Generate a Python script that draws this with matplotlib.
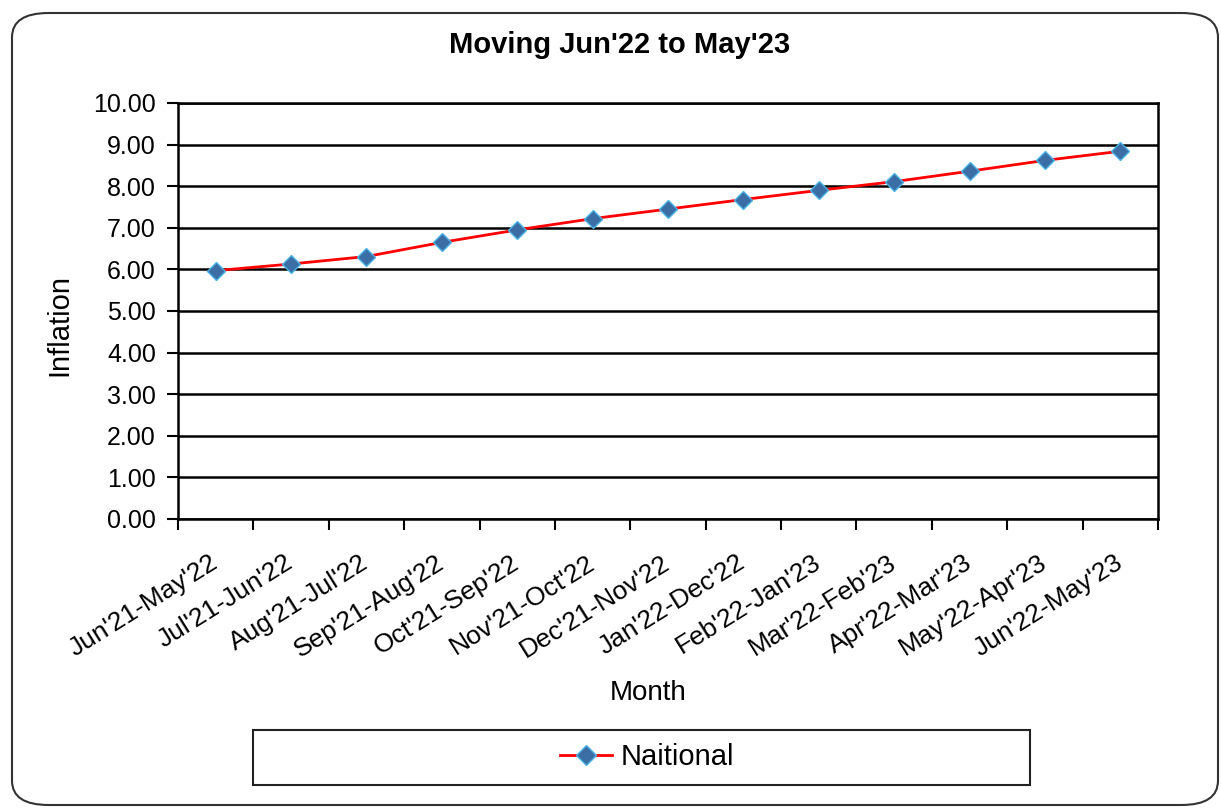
import matplotlib
matplotlib.use("Agg")
import matplotlib.pyplot as plt
from matplotlib.patches import FancyBboxPatch, Rectangle

plt.rcParams['font.family'] = ['Liberation Sans', 'DejaVu Sans']

categories = ["Jun'21-May'22", "Jul'21-Jun'22", "Aug'21-Jul'22", "Sep'21-Aug'22",
              "Oct'21-Sep'22", "Nov'21-Oct'22", "Dec'21-Nov'22", "Jan'22-Dec'22",
              "Feb'22-Jan'23", "Mar'22-Feb'23", "Apr'22-Mar'23", "May'22-Apr'23",
              "Jun'22-May'23"]
national = [5.97, 6.13, 6.31, 6.65, 6.95, 7.22, 7.45, 7.68, 7.90, 8.11, 8.36, 8.62, 8.84]
yticks = [0, 1, 2, 3, 4, 5, 6, 7, 8, 9, 10]

W, H = 1221, 811
fig = plt.figure(figsize=(W / 100, H / 100), dpi=100)

# rounded outer border
border = FancyBboxPatch((12 / W, 6 / H), (1206 / W), (792 / H),
                        boxstyle="round,pad=0,rounding_size=0.03",
                        transform=fig.transFigure, facecolor='none',
                        edgecolor='#333333', linewidth=1.5, zorder=-10)
fig.patches.append(border)

ax = fig.add_axes([178 / W, 1 - 519 / H, (1158 - 178) / W, (519 - 103) / H])
ax.set_facecolor('white')

x = list(range(len(categories)))
ax.plot(x, national, color='#FF0000', linewidth=2, marker='D', markersize=9,
        markerfacecolor='#3A6EA5', markeredgecolor='#4BB3E6', markeredgewidth=1,
        zorder=5, label='Naitional')

ax.set_xlim(-0.5, len(categories) - 0.5)
ax.set_ylim(0, 10)
ax.set_yticks(yticks)
ax.set_yticklabels([f"{v:.2f}" for v in yticks], fontsize=18)
ax.yaxis.grid(True, color='black', linewidth=1.8)
ax.set_axisbelow(True)

# category boundary ticks (major) and labels at centers (minor)
ax.set_xticks([i - 0.5 for i in range(len(categories) + 1)])
ax.set_xticklabels([])
ax.set_xticks(x, minor=True)
ax.set_xticklabels(categories, minor=True, rotation=32, ha='right',
                   va='center', rotation_mode='anchor', fontsize=19)
ax.tick_params(axis='x', which='minor', length=0, pad=30)
ax.tick_params(axis='x', which='major', length=8, width=1.5, direction='out')
ax.tick_params(axis='y', length=8, width=1.5, direction='out', pad=8)

for s in ax.spines.values():
    s.set_color('black')
    s.set_linewidth(1.8)

fig.text(620 / W, 1 - 45 / H, "Moving Jun'22 to May'23", ha='center', va='center',
         fontsize=21, fontweight='bold')
fig.text(59 / W, 1 - 325 / H, "Inflation", ha='center', va='center',
         rotation=90, fontsize=21)
fig.text(648 / W, 1 - 693 / H, "Month", ha='center', va='center', fontsize=20)

# legend box
lbox = Rectangle((253 / W, 1 - 785 / H), (1030 - 253) / W, (785 - 730) / H,
                 transform=fig.transFigure, facecolor='none', edgecolor='#222222',
                 linewidth=1.5, zorder=1)
fig.patches.append(lbox)
handles, labels = ax.get_legend_handles_labels()
fig.legend(handles, labels, loc='center', bbox_to_anchor=(647 / W, 1 - 757 / H),
           frameon=False, fontsize=21, handlelength=1.8, handletextpad=0.3,
           markerscale=1.1)

fig.savefig("out.png", dpi=100)
